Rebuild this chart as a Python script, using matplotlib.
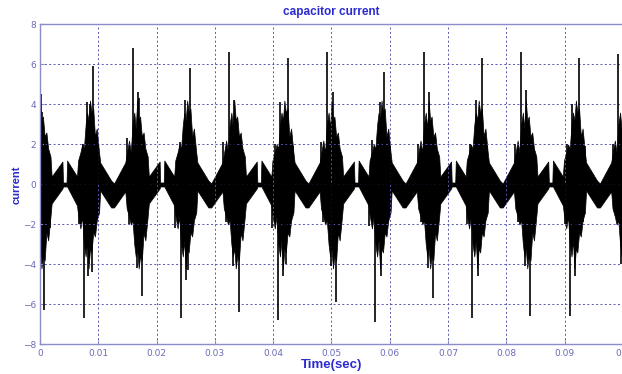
import numpy as np
import matplotlib.pyplot as plt

# centros das rajadas (ms) - a cada 1/120 s
burst_c = [0.0, 8.33, 16.67, 25.0, 33.33, 41.67, 50.0, 58.33, 66.67, 75.0, 83.33, 91.67, 100.0]

# envoltoria (offset em ms, topo, base)
odd_off = [-1.8, -1.4, -1.1, -0.8, -0.5, -0.25, 0.0, 0.25, 0.5, 0.8, 1.1, 1.4, 1.8]
odd_hi = [1.5, 2.2, 1.6, 3.0, 3.6, 2.8, 4.2, 3.2, 3.4, 2.4, 2.6, 1.8, 1.4]
odd_lo = [-1.2, -1.6, -2.0, -1.8, -3.0, -3.6, -3.2, -4.2, -3.6, -3.8, -2.4, -2.8, -1.6]
even_off = [-1.8, -1.4, -1.1, -0.8, -0.5, -0.25, 0.0, 0.25, 0.5, 0.8, 1.1, 1.4, 1.8]
even_hi = [1.2, 1.6, 2.0, 1.8, 3.0, 3.6, 3.2, 4.2, 3.6, 3.8, 2.4, 2.8, 1.6]
even_lo = [-1.5, -2.2, -1.6, -3.0, -3.6, -2.8, -4.2, -3.2, -3.4, -2.4, -2.6, -1.8, -1.4]

# trecho entre rajadas: depois de rajada impar (forma de "n") e par (forma de "u")
capgap_off = [2.0, 3.85, 3.95, 4.55, 4.65, 6.35]
capgap_hi = [0.4, 1.15, 0.1, 0.1, 1.2, 0.4]
capgap_lo = [-0.95, -0.2, -0.1, -0.1, -0.1, -1.05]
cupgap_off = [2.0, 3.87, 4.37, 6.3]
cupgap_hi = [1.1, 0.2, 0.05, 1.1]
cupgap_lo = [-0.3, -1.15, -1.15, -0.35]

# picos finos (ms, valor)
spike_t = [0.17, 0.4, 0.74, 0.9, 1.7,
           6.64, 7.3, 7.55, 8.1, 8.28, 8.58, 8.87, 9.04, 9.43, 9.9,
           14.87, 15.27, 15.9, 16.59, 16.76, 16.98, 17.44, 17.72, 18.3,
           23.16, 24.01, 24.13, 24.92, 25.1, 25.47, 25.73, 26.2, 26.6,
           31.44, 31.9, 32.47, 33.16, 33.36, 34.19, 34.6, 35.0,
           39.85, 40.31, 40.87, 41.17, 41.73, 42.2, 42.59, 43.05, 43.4,
           48.15, 48.5, 49.18, 49.86, 50.2, 50.77, 51.1, 51.6,
           56.4, 56.9, 57.46, 58.3, 58.5, 59.06, 59.7, 60.0,
           64.9, 65.35, 65.87, 66.6, 66.77, 67.36, 67.75, 68.3,
           73.19, 73.76, 74.05, 74.79, 75.18, 75.76, 76.3, 76.72,
           81.47, 82.0, 82.5, 83.19, 83.36, 84.05, 84.34, 84.9,
           90.05, 90.34, 90.91, 91.2, 91.77, 92.5, 93.1, 93.5,
           98.2, 99.2, 99.66]
spike_v = [4.5, 3.6, -6.3, 2.1, -2.2,
           -2.0, 2.0, -6.7, 4.1, -4.6, 4.0, -4.4, 5.9, -2.0, 2.0,
           2.3, -2.0, 6.8, -4.2, 4.6, 4.3, -5.6, 2.2, -1.8,
           -2.2, 2.1, -6.7, 4.2, -4.8, -4.3, 5.8, -1.9, 2.0,
           2.1, -1.9, 6.6, -4.1, 4.2, -6.4, 1.8, -1.8,
           -2.2, 2.0, -6.8, 4.1, -4.6, -4.0, 6.3, -1.9, 1.9,
           2.1, -1.9, 6.6, -4.1, 4.6, -5.9, 1.9, -1.9,
           -2.1, 2.2, -6.9, 4.1, -4.6, 5.6, -1.9, 1.9,
           2.0, -1.9, 6.6, -4.2, 4.6, -5.7, 1.8, -1.8,
           -2.0, 2.0, -6.7, 4.2, -4.6, 6.3, -1.9, 1.9,
           2.0, -1.9, 6.6, -4.1, 4.7, -6.6, 1.8, -1.8,
           -2.0, 2.0, -6.6, 4.0, -4.6, 6.3, -1.9, 1.9,
           2.0, 6.5, -4.0]

# monta o poligono da envoltoria
env_t, env_hi, env_lo = [], [], []
for i, c in enumerate(burst_c):
    if i % 2 == 0:
        off, hi, lo = odd_off, odd_hi, odd_lo
        goff, ghi, glo = capgap_off, capgap_hi, capgap_lo
    else:
        off, hi, lo = even_off, even_hi, even_lo
        goff, ghi, glo = cupgap_off, cupgap_hi, cupgap_lo
    env_t += [c + o for o in off]
    env_hi += hi
    env_lo += lo
    if i < len(burst_c) - 1:
        env_t += [c + o for o in goff]
        env_hi += ghi
        env_lo += glo

env_t = np.array(env_t) / 1000
spk_t = np.array(spike_t) / 1000

azul = "#2a2ad0"
moldura = "#8c8cc8"

fig = plt.figure(figsize=(6.22, 3.74), dpi=100)
ax = fig.add_axes([0.0643, 0.0789, 0.9373, 0.8556])

ax.fill_between(env_t, env_lo, env_hi, color="k", lw=0.5)
ax.vlines(spk_t, 0, spike_v, color="k", lw=1.2)
ax.axhline(0, color="k", lw=0.6)

ax.set_xlim(0, 0.1)
ax.set_ylim(-8, 8)
ax.set_xticks(np.arange(0, 0.101, 0.01))
ax.set_xticklabels(["0", "0.01", "0.02", "0.03", "0.04", "0.05", "0.06",
                    "0.07", "0.08", "0.09", "0.1"])
ax.set_yticks(np.arange(-8, 9, 2))
ax.grid(True, color="#5555b0", linestyle=(0, (2, 2.5)), lw=0.7)
ax.tick_params(direction="in", length=3, color=moldura, labelcolor="#6a6ab8",
               labelsize=6.5, pad=3)
for s in ax.spines.values():
    s.set_color(moldura)
    s.set_linewidth(1.0)

fonte = "Liberation Sans"
ax.set_title("capacitor current", color=azul, fontweight="bold",
             fontsize=8.5, family=fonte, pad=7)
ax.set_xlabel("Time(sec)", color=azul, fontweight="bold", fontsize=9.5,
              family=fonte, labelpad=1)
ax.set_ylabel("current", color=azul, fontweight="bold", fontsize=8,
              family=fonte, labelpad=1)

fig.savefig("out.png", dpi=100)
